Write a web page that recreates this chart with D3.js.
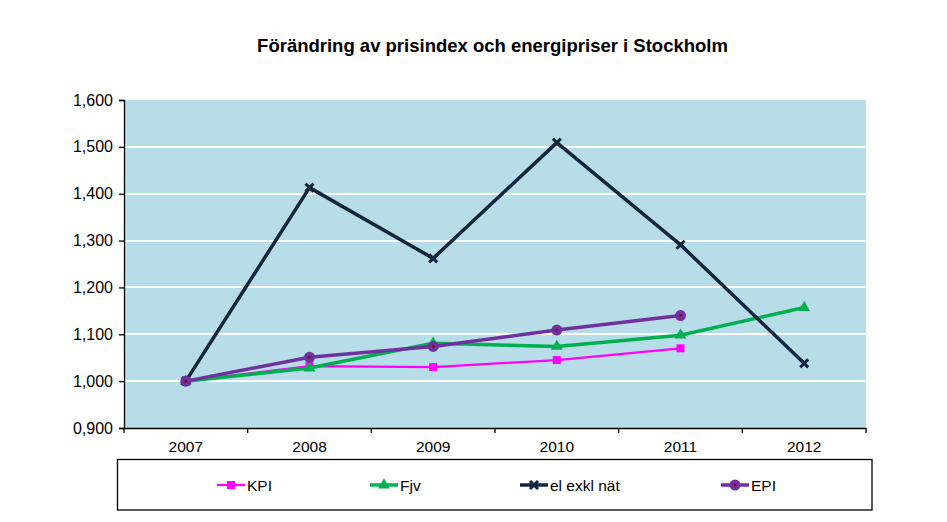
<!DOCTYPE html>
<html><head><meta charset="utf-8">
<script src="https://cdn.jsdelivr.net/npm/d3@7"></script>
<style>body{margin:0;background:#fff;font-family:"Liberation Sans",Arial,sans-serif;}</style>
</head><body>
<svg id="c" width="947" height="522"></svg>
<script>
const title = "Förändring av prisindex och energipriser i Stockholm";
const years = ["2007","2008","2009","2010","2011","2012"];
const yTicks = [0.9,1.0,1.1,1.2,1.3,1.4,1.5,1.6];
const kpi = [1.000,1.032,1.030,1.045,1.070,null];
const fjv = [1.000,1.028,1.081,1.074,1.098,1.157];
const elExkl = [1.000,1.413,1.262,1.509,1.291,1.038];
const epi = [1.000,1.051,1.074,1.109,1.140,null];
const seriesNames = ["KPI","Fjv","el exkl nät","EPI"];

const svg = d3.select("#c");
const L=124,R=866,T=100,B=428;
const x = d3.scaleBand().domain(years).range([L,R]);
const y = d3.scaleLinear().domain([0.9,1.6]).range([B,T]);
const fmt = v => d3.format(".3f")(v).replace(".",",");
const FF = "Liberation Sans, Arial, sans-serif";

svg.append("text").attr("x",492.5).attr("y",52).attr("text-anchor","middle")
  .attr("font-size",18.5).attr("font-weight","bold").attr("fill","#000").attr("font-family",FF).text(title);

svg.append("rect").attr("x",L).attr("y",T).attr("width",R-L).attr("height",B-T).attr("fill","#B7DDE8");
svg.append("g").selectAll("line").data(yTicks.filter(v=>v>0.95&&v<1.55)).join("line")
  .attr("x1",L).attr("x2",R).attr("y1",d=>Math.round(y(d))).attr("y2",d=>Math.round(y(d)))
  .attr("stroke","#fff").attr("stroke-width",2.2);

const ya = d3.axisLeft(y).tickValues(yTicks).tickFormat(fmt).tickSize(5).tickPadding(6);
const gy = svg.append("g").attr("transform",`translate(${L},0)`).call(ya);
gy.select(".domain").attr("stroke","#000").attr("stroke-width",1.3);
gy.selectAll(".tick line").attr("stroke-width",1.3);
gy.selectAll("text").attr("font-size",16).attr("fill","#000").attr("font-family",FF);

const xa = d3.axisBottom(x).tickSize(0).tickPadding(13);
const gx = svg.append("g").attr("transform",`translate(0,${B})`).call(xa);
gx.select(".domain").attr("stroke","#000").attr("stroke-width",1.3);
gx.selectAll("text").attr("font-size",15.5).attr("fill","#000").attr("font-family",FF);
const bounds = years.map(d=>x(d)).concat([R]);
gx.selectAll(".bt").data(bounds).join("line").attr("class","bt")
  .attr("x1",d=>d).attr("x2",d=>d).attr("y1",0).attr("y2",5).attr("stroke","#000").attr("stroke-width",1.3);

const cx = i => x(years[i]) + x.bandwidth()/2;
const series = [
  {name:"KPI",data:kpi,color:"#FF00FF",w:2.2,marker:"square"},
  {name:"Fjv",data:fjv,color:"#00B050",w:3.5,marker:"triangle"},
  {name:"el exkl nät",data:elExkl,color:"#14253F",w:3.5,marker:"x"},
  {name:"EPI",data:epi,color:"#7030A0",w:3.5,marker:"circle"}
];
const line = d3.line().defined(d=>d!=null).x((d,i)=>cx(i)).y(d=>y(d));

function drawMarker(g,m,color,px,py){
  if(m==="square") g.append("rect").attr("x",px-4).attr("y",py-4).attr("width",8).attr("height",8).attr("fill",color);
  else if(m==="triangle") g.append("path").attr("d",d3.symbol(d3.symbolTriangle,60)()).attr("transform",`translate(${px},${py})`).attr("fill",color);
  else if(m==="x"){ g.append("path").attr("d",`M${px-4},${py-4}L${px+4},${py+4}M${px-4},${py+4}L${px+4},${py-4}`).attr("stroke",color).attr("stroke-width",3);}
  else if(m==="circle"){ g.append("circle").attr("cx",px).attr("cy",py).attr("r",5.5).attr("fill",color);
    g.append("circle").attr("cx",px).attr("cy",py).attr("r",1.3).attr("fill","#8B0000");}
}

series.forEach(s=>{
  const g = svg.append("g");
  g.append("path").datum(s.data).attr("d",line).attr("fill","none").attr("stroke",s.color)
    .attr("stroke-width",s.w).attr("stroke-linejoin","round");
  s.data.forEach((v,i)=>{ if(v!=null) drawMarker(g,s.marker,s.color,cx(i),y(v)); });
});

// legend
svg.append("rect").attr("x",117.5).attr("y",459.5).attr("width",754.5).attr("height",50.5).attr("fill","#fff").attr("stroke","#000").attr("stroke-width",1.3);
const lx = [217,370,520,721];
series.forEach((s,i)=>{
  const g = svg.append("g");
  g.append("line").attr("x1",lx[i]).attr("x2",lx[i]+28).attr("y1",485).attr("y2",485).attr("stroke",s.color).attr("stroke-width",s.w);
  drawMarker(g,s.marker,s.color,lx[i]+14,485);
  g.append("text").attr("x",lx[i]+30).attr("y",490.5).attr("font-size",15.5).attr("fill","#000").attr("font-family",FF).text(seriesNames[i]);
});
</script>
</body></html>
